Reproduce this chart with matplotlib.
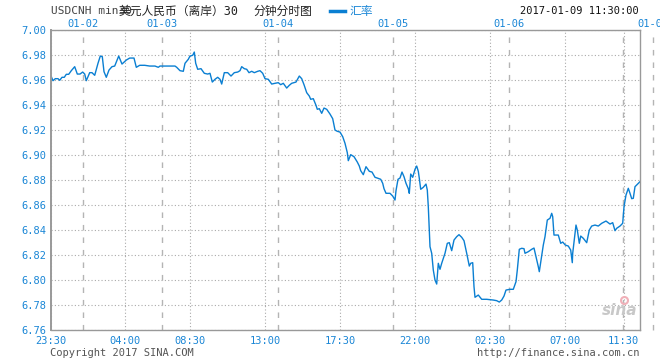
import matplotlib
matplotlib.use("Agg")
import matplotlib.pyplot as plt
from matplotlib.lines import Line2D
from matplotlib.transforms import blended_transform_factory

plt.rcParams['font.family'] = ['DejaVu Sans Mono', 'Noto Sans CJK SC']

# 30-minute USDCNH rate, x = slot position along the trading-time axis
pos = [0, 2, 4.3, 7, 8.7, 11, 13.3, 15.3, 17.7, 20.3, 23.7, 26.3, 29, 31.7, 33.7,
       35.3, 38.7, 41, 43.7, 47, 49.3, 51.3, 53, 55.3, 58, 61, 63.7, 67.7, 71,
       75.3, 78.7, 83, 85.3, 88.7, 93.7, 98.7, 104, 107.3, 109, 124, 125.7, 129,
       132.3, 134, 137.3, 139, 141.7, 143.3, 144.7, 146.7, 150, 153.3, 156.7, 159,
       161.3, 164, 166.7, 169, 170.7, 173.3, 176.7, 180, 183.3, 186.7, 189, 190.7,
       193.3, 195.7, 198, 200.7, 203.3, 206.7, 209, 211.7, 214, 217.3, 220.7, 224,
       227.3, 229.7, 232.3, 235.7, 238.3, 240.7, 245, 248.3, 250.7, 253, 255.7,
       258.3, 259.7, 262.3, 265, 266.3, 268.3, 270.7, 273, 275.7, 279, 281.7, 284,
       286.3, 289, 291.7, 294, 296.3, 297.3, 299.7, 303, 306.3, 308.3, 309.7,
       312.3, 315, 318.3, 321, 324, 326.3, 329.7, 331.7, 333, 335, 339, 341.7, 344,
       345, 347, 349, 351, 353, 355, 357.3, 358.3, 359.7, 361.7, 364, 365.7, 367.3,
       368.3, 369.7, 372.3, 375, 376.3, 377.3, 378.3, 379, 380.7, 382.3, 384,
       385.7, 387.3, 389, 390.7, 394, 396.3, 398.3, 400.7, 403, 405.7, 408, 410.7,
       413, 415.7, 418.3, 419.7, 421.7, 423, 424, 427.3, 430.7, 435.7, 442.3,
       445.7, 448.3, 450.7, 453, 455, 459, 462.3, 465, 466.3, 468.3, 470.7, 473,
       474, 477.3, 480.7, 483, 485, 487.3, 488.3, 490, 492.3, 494, 496.3, 499,
       500.7, 501.7, 503, 507.3, 509.7, 511.7, 514.3, 517.3, 519.7, 521.3, 521.7,
       524, 525, 526.3, 528.3, 529.7, 532.3, 535.7, 538.3, 540.7, 544, 547.3,
       550.7, 555, 559, 561.7, 564, 565.7, 569, 571.7, 573, 575, 577.3, 579, 580.7,
       582.3, 584, 587.3, 589]
rate = [6.9634, 6.9597, 6.9613, 6.9613, 6.9600, 6.9624, 6.9624, 6.9648, 6.9648,
        6.9677, 6.9709, 6.9650, 6.9650, 6.9666, 6.9650, 6.9597, 6.9661, 6.9661,
        6.9640, 6.9736, 6.9794, 6.9789, 6.9669, 6.9624, 6.9682, 6.9709, 6.9714,
        6.9794, 6.9730, 6.9762, 6.9778, 6.9778, 6.9704, 6.9720, 6.9720, 6.9714,
        6.9714, 6.9704, 6.9714, 6.9714, 6.9704, 6.9677, 6.9672, 6.9736, 6.9768,
        6.9794, 6.9800, 6.9826, 6.9736, 6.9688, 6.9693, 6.9656, 6.9650, 6.9656,
        6.9586, 6.9608, 6.9624, 6.9608, 6.9570, 6.9661, 6.9661, 6.9634, 6.9661,
        6.9666, 6.9677, 6.9709, 6.9693, 6.9688, 6.9661, 6.9672, 6.9661, 6.9672,
        6.9677, 6.9656, 6.9613, 6.9608, 6.9570, 6.9576, 6.9581, 6.9565, 6.9576,
        6.9538, 6.9560, 6.9576, 6.9586, 6.9634, 6.9613, 6.9565, 6.9501, 6.9474,
        6.9448, 6.9453, 6.9400, 6.9368, 6.9373, 6.9336, 6.9378, 6.9368, 6.9330,
        6.9293, 6.9202, 6.9192, 6.9186, 6.9149, 6.9096, 6.9021, 6.8957, 6.9005,
        6.8989, 6.8946, 6.8914, 6.8877, 6.8845, 6.8909, 6.8872, 6.8866, 6.8824,
        6.8818, 6.8808, 6.8776, 6.8733, 6.8696, 6.8696, 6.8674, 6.8642, 6.8717,
        6.8808, 6.8818, 6.8866, 6.8829, 6.8776, 6.8733, 6.8696, 6.8850, 6.8824,
        6.8888, 6.8914, 6.8872, 6.8816, 6.8728, 6.8744, 6.8770, 6.8722, 6.8589,
        6.8402, 6.8269, 6.8216, 6.8082, 6.8002, 6.7970, 6.8136, 6.8088, 6.8136,
        6.8216, 6.8296, 6.8301, 6.8237, 6.8322, 6.8349, 6.8365, 6.8344, 6.8317,
        6.8216, 6.8114, 6.8136, 6.8141, 6.7949, 6.7864, 6.7882, 6.7848, 6.7848,
        6.7842, 6.7837, 6.7826, 6.7842, 6.7874, 6.7922, 6.7928, 6.7928, 6.7989,
        6.8082, 6.8248, 6.8256, 6.8253, 6.8216, 6.8229, 6.8248, 6.8258, 6.8189,
        6.8109, 6.8069, 6.8162, 6.8282, 6.8349, 6.8482, 6.8496, 6.8536, 6.8509,
        6.8362, 6.8362, 6.8296, 6.8306, 6.8282, 6.8274, 6.8242, 6.8141, 6.8216,
        6.8376, 6.8442, 6.8402, 6.8296, 6.8354, 6.8336, 6.8301, 6.8402, 6.8434,
        6.8442, 6.8434, 6.8456, 6.8474, 6.8450, 6.8461, 6.8397, 6.8416, 6.8434,
        6.8456, 6.8589, 6.8682, 6.8736, 6.8696, 6.8653, 6.8656, 6.8749, 6.8776,
        6.8789]

# axis labels
time_pos = [0, 74, 139, 214, 289, 364, 439, 514, 572.5]
time_labels = ['23:30', '04:00', '08:30', '13:00', '17:30', '22:00', '02:30', '07:00', '11:30']
day_pos = [32, 111, 227, 342, 458, 572, 601.7]
day_labels = ['01-02', '01-03', '01-04', '01-05', '01-06', '', '01-09']
y_ticks = [6.76, 6.78, 6.80, 6.82, 6.84, 6.86, 6.88, 6.90, 6.92, 6.94, 6.96, 6.98, 7.00]

blue = '#0a7fd2'
lblue = '#1a86d6'
gray = '#999999'

fig = plt.figure(figsize=(6.6, 3.6), dpi=100)
ax = fig.add_axes([51 / 660, 29.7 / 360, 589 / 660, 300 / 360])
ax.set_xlim(0, 589)
ax.set_ylim(6.76, 7.00)

# grid
ax.set_yticks(y_ticks)
ax.set_yticklabels(['%.2f' % t for t in y_ticks])
ax.set_xticks(time_pos)
ax.set_xticklabels(time_labels)
ax.grid(True, color='#aaaaaa', linestyle=(0, (1, 2)), linewidth=0.8)
for d in day_pos:
    ax.axvline(d, color='#b4b4b4', linestyle=(0, (4, 5)), linewidth=1.0,
               clip_on=(d < 589))

ax.plot(pos, rate, color=blue, linewidth=1.0)

for s in ax.spines.values():
    s.set_color(gray)
    s.set_linewidth(1.0)
ax.spines['left'].set_linewidth(1.4)
ax.tick_params(length=0, labelsize=7.5, labelcolor=lblue)
ax.tick_params(axis='x', pad=4)
ax.tick_params(axis='y', pad=3.5)

# day labels along the top (last one runs off the image edge)
trans = blended_transform_factory(ax.transData, ax.transAxes)
for d, lab in zip(day_pos, day_labels):
    if lab:
        ax.text(d, 1.005, lab, transform=trans, ha='center', va='bottom',
                fontsize=7.5, color=lblue, clip_on=False)

# header
fig.text(51 / 660, 1 - 11 / 360, 'USDCNH min30', fontsize=8, color='#444444',
         ha='left', va='center')
fig.text(119 / 660, 1 - 11 / 360, '美元人民币（离岸）30', fontsize=8.5, color='#222222',
         ha='left', va='center')
fig.text(253 / 660, 1 - 11 / 360, '分钟分时图', fontsize=8.5, color='#222222',
         ha='left', va='center')
fig.add_artist(Line2D([330 / 660, 345 / 660], [1 - 11 / 360, 1 - 11 / 360],
                      color=blue, linewidth=2.5, transform=fig.transFigure))
fig.text(349 / 660, 1 - 11 / 360, '汇率', fontsize=8.5, color=lblue,
         ha='left', va='center')
fig.text(639 / 660, 1 - 11 / 360, '2017-01-09 11:30:00', fontsize=7.5,
         color='#111111', ha='right', va='center')

# footer
fig.text(50 / 660, 1 - 352.5 / 360, 'Copyright 2017 SINA.COM', fontsize=7.5,
         color='#555555', ha='left', va='center')
fig.text(639 / 660, 1 - 352.5 / 360, 'http://finance.sina.com.cn', fontsize=7.5,
         color='#555555', ha='right', va='center')

# watermark
ax.text(0.965, 0.04, 'sina', transform=ax.transAxes, fontsize=11, color='#c8c8c8',
        fontstyle='italic', fontweight='bold', family='DejaVu Sans',
        ha='center', va='bottom')
ax.plot([0.972], [0.10], transform=ax.transAxes, marker='o', markersize=5,
        markerfacecolor='none', markeredgecolor='#f0b0b8', markeredgewidth=1.5)

fig.savefig('out.png', dpi=100)
